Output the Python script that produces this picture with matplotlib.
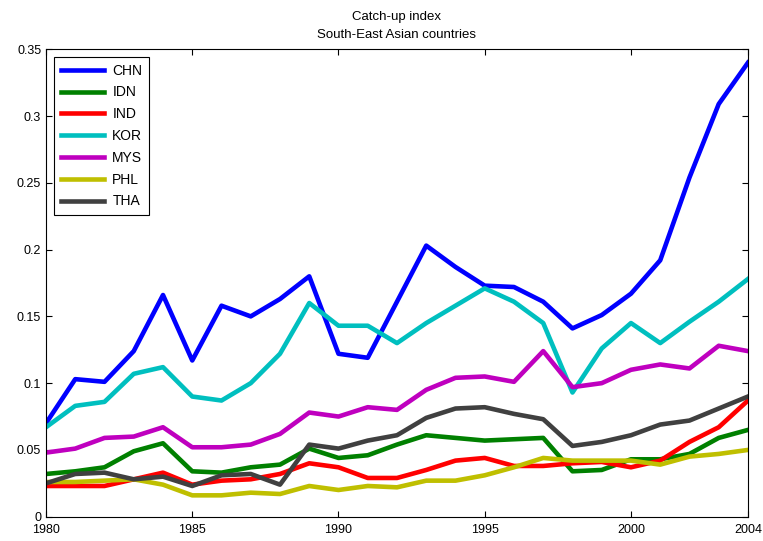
import matplotlib.pyplot as plt

plt.rcParams['font.family'] = ['Liberation Sans', 'DejaVu Sans']

years = list(range(1980, 2005))

chn = [0.070, 0.103, 0.101, 0.124, 0.166, 0.117, 0.158, 0.150, 0.163, 0.180,
       0.122, 0.119, 0.161, 0.203, 0.187, 0.173, 0.172, 0.161, 0.141, 0.151,
       0.167, 0.192, 0.254, 0.309, 0.340]
idn = [0.032, 0.034, 0.037, 0.049, 0.055, 0.034, 0.033, 0.037, 0.039, 0.051,
       0.044, 0.046, 0.054, 0.061, 0.059, 0.057, 0.058, 0.059, 0.034, 0.035,
       0.043, 0.043, 0.047, 0.059, 0.065]
ind = [0.023, 0.023, 0.023, 0.028, 0.033, 0.024, 0.027, 0.028, 0.032, 0.040,
       0.037, 0.029, 0.029, 0.035, 0.042, 0.044, 0.038, 0.038, 0.040, 0.041,
       0.037, 0.042, 0.056, 0.067, 0.087]
kor = [0.067, 0.083, 0.086, 0.107, 0.112, 0.090, 0.087, 0.100, 0.122, 0.160,
       0.143, 0.143, 0.130, 0.145, 0.158, 0.171, 0.161, 0.145, 0.093, 0.126,
       0.145, 0.130, 0.146, 0.161, 0.178]
mys = [0.048, 0.051, 0.059, 0.060, 0.067, 0.052, 0.052, 0.054, 0.062, 0.078,
       0.075, 0.082, 0.080, 0.095, 0.104, 0.105, 0.101, 0.124, 0.097, 0.100,
       0.110, 0.114, 0.111, 0.128, 0.124]
phl = [0.026, 0.026, 0.027, 0.028, 0.024, 0.016, 0.016, 0.018, 0.017, 0.023,
       0.020, 0.023, 0.022, 0.027, 0.027, 0.031, 0.037, 0.044, 0.042, 0.042,
       0.042, 0.039, 0.045, 0.047, 0.050]
tha = [0.025, 0.032, 0.033, 0.028, 0.030, 0.023, 0.031, 0.032, 0.024, 0.054,
       0.051, 0.057, 0.061, 0.074, 0.081, 0.082, 0.077, 0.073, 0.053, 0.056,
       0.061, 0.069, 0.072, 0.081, 0.090]

series = [("CHN", chn, (0, 0, 1)),
          ("IDN", idn, (0, 0.5, 0)),
          ("IND", ind, (1, 0, 0)),
          ("KOR", kor, (0, 0.75, 0.75)),
          ("MYS", mys, (0.75, 0, 0.75)),
          ("PHL", phl, (0.75, 0.75, 0)),
          ("THA", tha, (0.25, 0.25, 0.25))]

fig = plt.figure(figsize=(7.63, 5.41), dpi=100)
ax = fig.add_axes([0.0603, 0.0449, 0.920, 0.864])

for name, vals, col in series:
    ax.plot(years, vals, color=col, linewidth=3.3, label=name)

ax.set_xlim(1980, 2004)
ax.set_ylim(0, 0.35)
ax.set_xticks([1980, 1985, 1990, 1995, 2000, 2004])
ax.set_yticks([0, 0.05, 0.1, 0.15, 0.2, 0.25, 0.3, 0.35])
ax.set_yticklabels(["0", "0.05", "0.1", "0.15", "0.2", "0.25", "0.3", "0.35"])
ax.tick_params(direction="in", top=True, right=True, labelsize=9, length=4)
ax.tick_params(axis="x", pad=5)
ax.set_title("Catch-up index\nSouth-East Asian countries", fontsize=9.5,
             pad=8, linespacing=1.7)

leg = ax.legend(loc="upper left", fontsize=10, fancybox=False, framealpha=1,
                edgecolor="black", handlelength=3.1, handletextpad=0.6,
                borderpad=0.5, labelspacing=0.56, borderaxespad=0,
                bbox_to_anchor=(0.0114, 0.984))
leg.get_frame().set_linewidth(0.8)

plt.savefig("out.png", dpi=100)
